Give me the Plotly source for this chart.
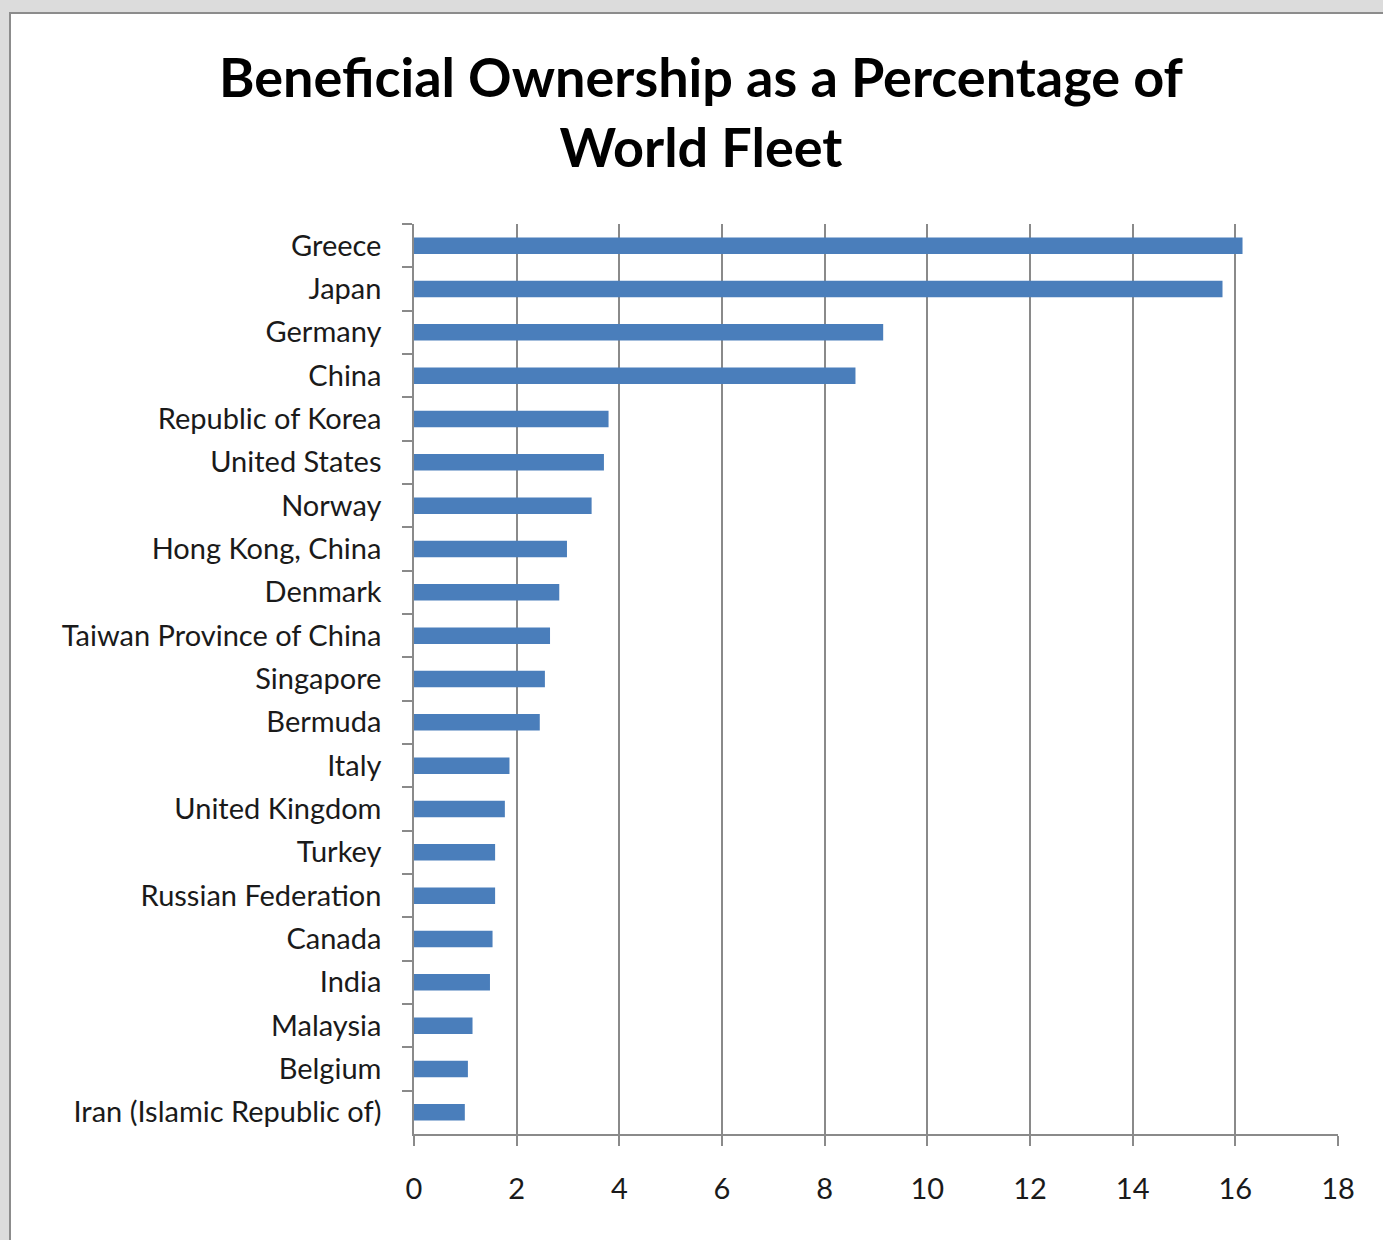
import plotly.graph_objects as go

countries = [
    "Greece", "Japan", "Germany", "China", "Republic of Korea", "United States",
    "Norway", "Hong Kong, China", "Denmark", "Taiwan Province of China",
    "Singapore", "Bermuda", "Italy", "United Kingdom", "Turkey",
    "Russian Federation", "Canada", "India", "Malaysia", "Belgium",
    "Iran (Islamic Republic of)",
]
share_pct = [
    16.14, 15.75, 9.14, 8.60, 3.79, 3.70,
    3.46, 2.98, 2.83, 2.65,
    2.55, 2.45, 1.86, 1.77, 1.58,
    1.58, 1.53, 1.48, 1.14, 1.05,
    0.99,
]
x_ticks = [0, 2, 4, 6, 8, 10, 12, 14, 16, 18]

W, H = 1383, 1240
L, R, T, B = 414, 1383 - 1338, 224, 1240 - 1134
pw, ph = W - L - R, H - T - B

def px_x(p):
    return (p - L) / pw

def px_y(p):
    return (H - B - p) / ph

fig = go.Figure(
    go.Bar(
        x=share_pct,
        y=countries,
        orientation="h",
        marker=dict(color="#4a7ebb", line=dict(width=0)),
        width=0.38,
    )
)

grid_col = "#8a8a8a"
fig.update_layout(
    width=W,
    height=H,
    margin=dict(l=L, r=R, t=T, b=B, pad=0),
    paper_bgcolor="#dcdcdc",
    plot_bgcolor="white",
    showlegend=False,
    title=dict(
        text="<b>Beneficial Ownership as a Percentage of<br>World Fleet</b>",
        x=701 / W,
        xanchor="center",
        y=1 - 97 / H,
        yanchor="top",
        xref="container",
        yref="container",
        font=dict(family="Lato", size=54, color="#000000"),
    ),
    font=dict(family="Lato", color="#1a1a1a"),
    shapes=[
        dict(
            type="rect", xref="paper", yref="paper", layer="below",
            x0=px_x(10), x1=px_x(1400), y0=px_y(1260), y1=px_y(13),
            fillcolor="white", line=dict(color="#8c8c8c", width=2),
        )
    ],
)

fig.update_xaxes(
    range=[0, 18],
    tickvals=x_ticks,
    ticktext=[str(v) for v in x_ticks],
    showgrid=True,
    gridcolor=grid_col,
    gridwidth=1.5,
    zeroline=False,
    showline=True,
    linecolor=grid_col,
    linewidth=1.5,
    ticks="outside",
    ticklen=10,
    tickwidth=1.5,
    tickcolor=grid_col,
    ticklabelstandoff=18,
    tickfont=dict(family="Lato", size=29, color="#1a1a1a"),
    fixedrange=True,
)

fig.update_yaxes(
    type="category",
    categoryorder="array",
    categoryarray=countries,
    autorange="reversed",
    showgrid=False,
    zeroline=False,
    showline=True,
    linecolor=grid_col,
    linewidth=1.5,
    ticks="outside",
    tickson="boundaries",
    ticklen=10,
    tickwidth=1.5,
    tickcolor=grid_col,
    ticklabelstandoff=25,
    tickfont=dict(family="Lato", size=29, color="#1a1a1a"),
    fixedrange=True,
)

fig.write_html("out.html")
